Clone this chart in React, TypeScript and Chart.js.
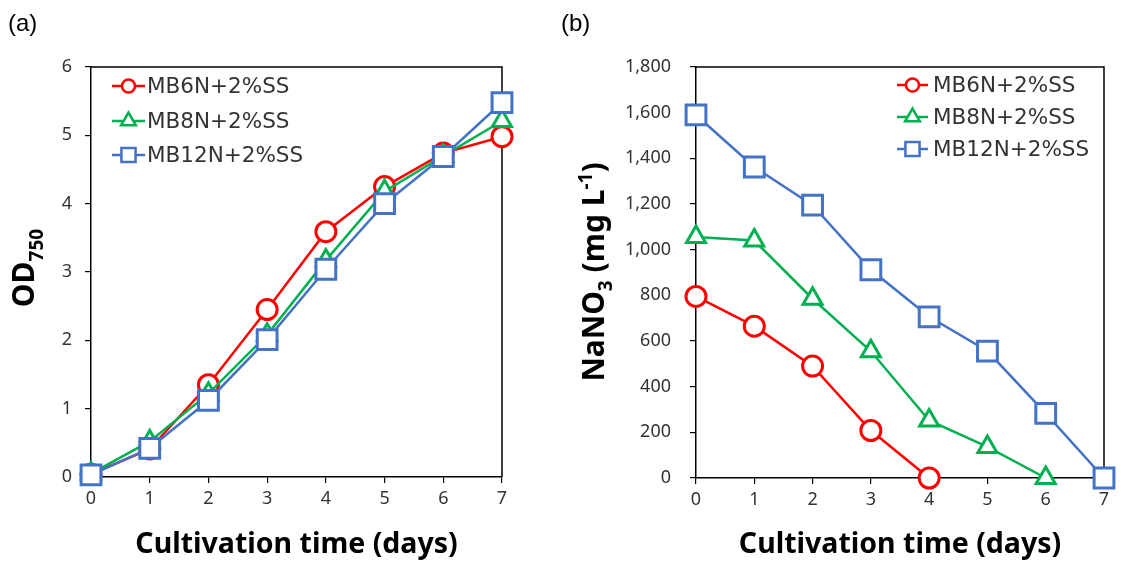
import React, { useEffect, useRef } from "react";
import { Chart, registerables } from "chart.js";

Chart.register(...registerables);

// ---- data -------------------------------------------------------------
const days = [0, 1, 2, 3, 4, 5, 6, 7];
const seriesNames = ["MB6N+2%SS", "MB8N+2%SS", "MB12N+2%SS"];
const seriesColors = ["#FF0000", "#00B050", "#4472C4"];
const seriesMarkers = ["circle", "triangle", "rect"];

// (a) optical density at 750 nm
const odMB6N = [0.04, 0.41, 1.35, 2.45, 3.59, 4.25, 4.74, 4.98];
const odMB8N = [0.05, 0.52, 1.22, 2.08, 3.17, 4.18, 4.7, 5.21];
const odMB12N = [0.03, 0.42, 1.12, 2.01, 3.04, 4.0, 4.69, 5.48];

// (b) residual NaNO3, mg/L
const no3MB6N = [795, 665, 490, 208, 0];
const no3MB8N = [1055, 1040, 785, 555, 252, 136, 0];
const no3MB12N = [1590, 1362, 1195, 912, 706, 556, 283, 0];

const dayTicks = [0, 1, 2, 3, 4, 5, 6, 7];
const odTicks = [0, 1, 2, 3, 4, 5, 6];
const no3Ticks = [0, 200, 400, 600, 800, 1000, 1200, 1400, 1600, 1800];

// ---- styling ----------------------------------------------------------
const TICK_FONT = "'Noto Sans', sans-serif";
const TITLE_FONT = "'Noto Sans', sans-serif";
const LEGEND_FONT = "'DejaVu Sans', sans-serif";
const LABEL_FONT = "'Liberation Sans', Arial, sans-serif";
const TEXT_COLOR = "#333333";

type Part = { text: string; size: number; shift: number };

type Decor = {
  panelLabel: string;
  panelLabelX: number;
  yTitle: Part[];
  yTitleBaseX: number;
  yTitleCenterY: number;
  legendLineX0: number;
  legendLineX1: number;
  legendTextX: number;
  legendRows: number[];
};

function drawMarker(
  ctx: CanvasRenderingContext2D,
  style: string,
  x: number,
  y: number,
  r: number
) {
  ctx.beginPath();
  if (style === "circle") {
    ctx.arc(x, y, r, 0, Math.PI * 2);
  } else if (style === "triangle") {
    ctx.moveTo(x, y - r);
    ctx.lineTo(x + r * Math.sin((2 * Math.PI) / 3), y + r * 0.5);
    ctx.lineTo(x - r * Math.sin((2 * Math.PI) / 3), y + r * 0.5);
    ctx.closePath();
  } else {
    const h = r * Math.SQRT1_2;
    ctx.rect(x - h, y - h, 2 * h, 2 * h);
  }
  ctx.fill();
  ctx.stroke();
}

function decorPlugin(d: Decor) {
  return {
    id: "panelDecor",
    beforeDatasetsDraw(chart: any) {
      // close the frame on the top and right sides
      const { ctx, chartArea } = chart;
      ctx.save();
      ctx.strokeStyle = "#000";
      ctx.lineWidth = 1.5;
      ctx.beginPath();
      ctx.moveTo(chartArea.left, chartArea.top);
      ctx.lineTo(chartArea.right, chartArea.top);
      ctx.lineTo(chartArea.right, chartArea.bottom);
      ctx.stroke();
      ctx.restore();
    },
    afterDraw(chart: any) {
      const { ctx, chartArea } = chart;
      ctx.save();

      // panel letter
      ctx.fillStyle = "#000";
      ctx.font = `24px ${LABEL_FONT}`;
      ctx.textAlign = "left";
      ctx.textBaseline = "alphabetic";
      ctx.fillText(d.panelLabel, d.panelLabelX, 31);

      // x-axis title
      ctx.font = `bold 28.5px ${TITLE_FONT}`;
      ctx.textAlign = "center";
      ctx.fillText(
        "Cultivation time (days)",
        (chartArea.left + chartArea.right) / 2,
        553
      );

      // rotated y-axis title with sub/superscripts
      ctx.save();
      ctx.translate(d.yTitleBaseX, d.yTitleCenterY);
      ctx.rotate(-Math.PI / 2);
      ctx.textAlign = "left";
      let total = 0;
      for (const p of d.yTitle) {
        ctx.font = `bold ${p.size}px ${TITLE_FONT}`;
        total += ctx.measureText(p.text).width;
      }
      let x = -total / 2;
      for (const p of d.yTitle) {
        ctx.font = `bold ${p.size}px ${TITLE_FONT}`;
        ctx.fillText(p.text, x, p.shift);
        x += ctx.measureText(p.text).width;
      }
      ctx.restore();

      // legend: line + marker + name
      const mid = (d.legendLineX0 + d.legendLineX1) / 2;
      seriesNames.forEach((name, i) => {
        const y = d.legendRows[i];
        ctx.strokeStyle = seriesColors[i];
        ctx.lineWidth = 2.5;
        ctx.beginPath();
        ctx.moveTo(d.legendLineX0, y);
        ctx.lineTo(d.legendLineX1, y);
        ctx.stroke();
        ctx.fillStyle = "#fff";
        const r = seriesMarkers[i] === "rect" ? 10 : seriesMarkers[i] === "triangle" ? 8.5 : 6.5;
        drawMarker(ctx, seriesMarkers[i], mid, y, r);
        ctx.fillStyle = TEXT_COLOR;
        ctx.font = `21.5px ${LEGEND_FONT}`;
        ctx.textAlign = "left";
        ctx.textBaseline = "middle";
        ctx.fillText(name, d.legendTextX, y + 1);
      });
      ctx.restore();
    },
  };
}

function makeDatasets(values: number[][]) {
  const radii: Record<string, number> = { circle: 10, triangle: 11, rect: 14 };
  return values.map((vals, i) => ({
    label: seriesNames[i],
    data: vals.map((v, k) => ({ x: days[k], y: v })),
    borderColor: seriesColors[i],
    backgroundColor: seriesColors[i],
    borderWidth: 2.5,
    pointStyle: seriesMarkers[i] as any,
    pointRadius: radii[seriesMarkers[i]],
    pointBorderWidth: 3,
    pointBackgroundColor: "#fff",
    pointBorderColor: seriesColors[i],
    tension: 0,
    clip: false as any,
    order: 3 - i,
  }));
}

function makeConfig(opts: {
  values: number[][];
  yTicks: number[];
  yMax: number;
  yWidth: number;
  xHeight: number;
  padRight: number;
  yPad: number;
  yFormat: (v: number) => string;
  decor: Decor;
}): any {
  return {
    type: "line",
    data: { datasets: makeDatasets(opts.values) },
    options: {
      responsive: false,
      animation: false,
      devicePixelRatio: 1,
      layout: { padding: { left: 0, top: 67, right: opts.padRight, bottom: 0 } },
      plugins: { legend: { display: false }, tooltip: { enabled: false } },
      scales: {
        x: {
          type: "linear",
          min: 0,
          max: 7,
          afterBuildTicks: (s: any) => {
            s.ticks = dayTicks.map((v) => ({ value: v }));
          },
          afterFit: (s: any) => {
            s.height = opts.xHeight;
          },
          grid: {
            drawOnChartArea: false,
            drawTicks: true,
            tickLength: 6,
            color: "#000",
            lineWidth: 1.2,
          },
          border: { display: true, color: "#000", width: 1.5 },
          ticks: {
            padding: 5,
            color: TEXT_COLOR,
            font: { size: 18, family: TICK_FONT },
            maxRotation: 0,
            autoSkip: false,
          },
        },
        y: {
          type: "linear",
          min: 0,
          max: opts.yMax,
          afterBuildTicks: (s: any) => {
            s.ticks = opts.yTicks.map((v) => ({ value: v }));
          },
          afterFit: (s: any) => {
            s.width = opts.yWidth;
          },
          grid: {
            drawOnChartArea: false,
            drawTicks: true,
            tickLength: 6,
            color: "#000",
            lineWidth: 1.2,
          },
          border: { display: true, color: "#000", width: 1.5 },
          ticks: {
            padding: opts.yPad,
            color: TEXT_COLOR,
            font: { size: 18, family: TICK_FONT },
            autoSkip: false,
            callback: (v: any) => opts.yFormat(Number(v)),
          },
        },
      },
    },
    plugins: [decorPlugin(opts.decor)],
  };
}

export default function App() {
  const refA = useRef<HTMLCanvasElement | null>(null);
  const refB = useRef<HTMLCanvasElement | null>(null);

  useEffect(() => {
    const chartA = new Chart(
      refA.current as HTMLCanvasElement,
      makeConfig({
        values: [odMB6N, odMB8N, odMB12N],
        yTicks: odTicks,
        yMax: 6,
        yWidth: 91,
        xHeight: 86,
        padRight: 58,
        yPad: 13,
        yFormat: (v) => String(v),
        decor: {
          panelLabel: "(a)",
          panelLabelX: 8,
          yTitle: [
            { text: "OD", size: 30, shift: 0 },
            { text: "750", size: 19, shift: 9 },
          ],
          yTitleBaseX: 34,
          yTitleCenterY: 268,
          legendLineX0: 112,
          legendLineX1: 145,
          legendTextX: 147,
          legendRows: [86, 121, 155],
        },
      })
    );
    const chartB = new Chart(
      refB.current as HTMLCanvasElement,
      makeConfig({
        values: [no3MB6N, no3MB8N, no3MB12N],
        yTicks: no3Ticks,
        yMax: 1800,
        yWidth: 136,
        xHeight: 85,
        padRight: 14,
        yPad: 19,
        yFormat: (v) => v.toLocaleString("en-US"),
        decor: {
          panelLabel: "(b)",
          panelLabelX: 1,
          yTitle: [
            { text: "NaNO", size: 30, shift: 0 },
            { text: "3", size: 19, shift: 8 },
            { text: " (mg L", size: 30, shift: 0 },
            { text: "-1", size: 19, shift: -12 },
            { text: ")", size: 30, shift: 0 },
          ],
          yTitleBaseX: 44,
          yTitleCenterY: 272,
          legendLineX0: 337,
          legendLineX1: 368,
          legendTextX: 373,
          legendRows: [85, 117, 149],
        },
      })
    );
    return () => {
      chartA.destroy();
      chartB.destroy();
    };
  }, []);

  return (
    <div
      style={{
        position: "fixed",
        left: 0,
        top: 0,
        width: 1121,
        height: 563,
        background: "#fff",
      }}
    >
      <canvas
        ref={refA}
        width={560}
        height={563}
        style={{ position: "absolute", left: 0, top: 0, width: 560, height: 563 }}
      />
      <canvas
        ref={refB}
        width={561}
        height={563}
        style={{ position: "absolute", left: 560, top: 0, width: 561, height: 563 }}
      />
    </div>
  );
}
